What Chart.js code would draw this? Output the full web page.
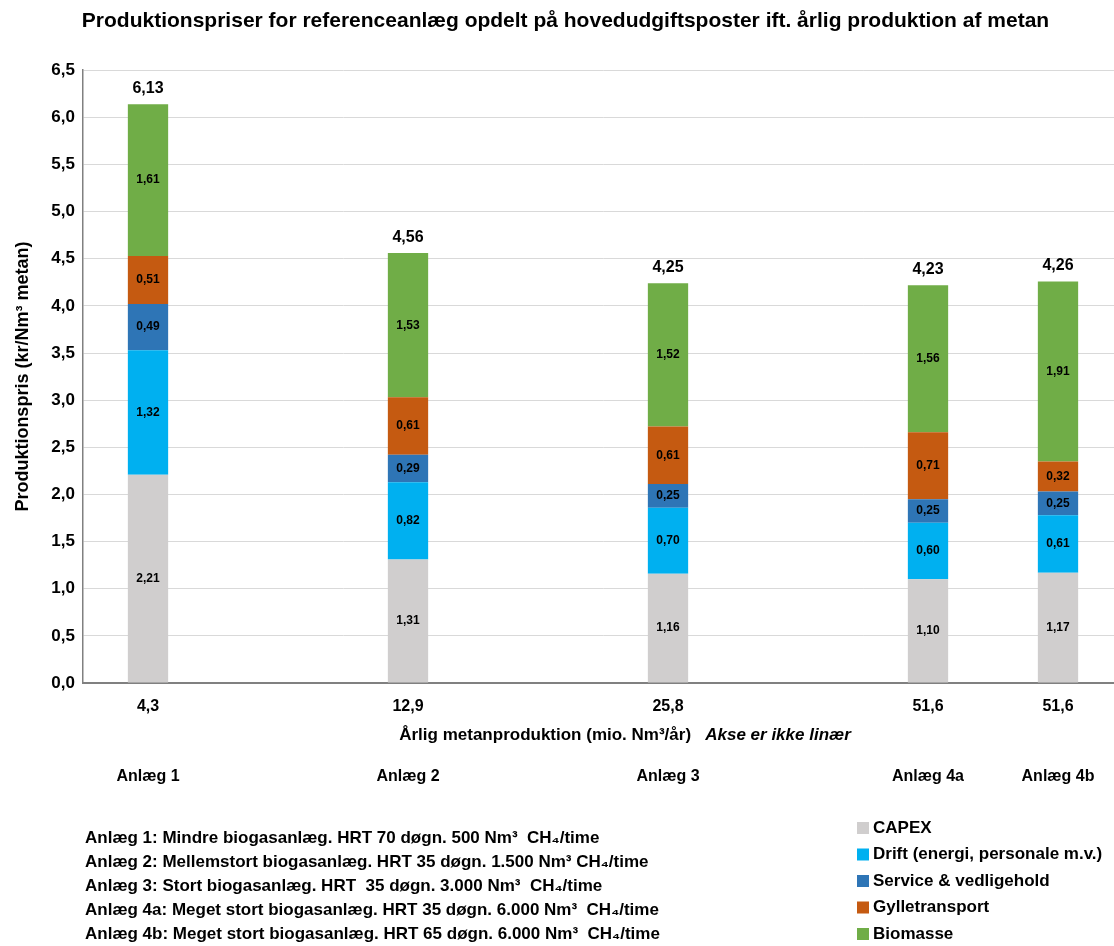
<!DOCTYPE html>
<html><head><meta charset="utf-8">
<script src="https://cdn.jsdelivr.net/npm/chart.js@4/dist/chart.umd.min.js"></script>
<style>html,body{margin:0;padding:0;background:#fff;overflow:hidden}#wrap{width:1123px;height:946px;position:relative}</style>
</head><body><div id="wrap"><canvas id="c" width="1123" height="946"></canvas></div>
<script>
const chartTitle = 'Produktionspriser for referenceanlæg opdelt på hovedudgiftsposter ift. årlig produktion af metan';
const yAxisTitle = 'Produktionspris (kr/Nm³ metan)';
const xAxisTitleMain = 'Årlig metanproduktion (mio. Nm³/år)';
const xAxisTitleNote = 'Akse er ikke linær';
const categories = ['4,3', '', '12,9', '', '25,8', '', '51,6', '51,6'];
const plantLabels = ['Anlæg 1', '', 'Anlæg 2', '', 'Anlæg 3', '', 'Anlæg 4a', 'Anlæg 4b'];
const seriesNames = ['CAPEX', 'Drift (energi, personale m.v.)', 'Service & vedligehold', 'Gylletransport', 'Biomasse'];
const capex    = [2.21, null, 1.31, null, 1.16, null, 1.10, 1.17];
const drift    = [1.32, null, 0.82, null, 0.70, null, 0.60, 0.61];
const service  = [0.49, null, 0.29, null, 0.25, null, 0.25, 0.25];
const gylle    = [0.51, null, 0.61, null, 0.61, null, 0.71, 0.32];
const biomasse = [1.61, null, 1.53, null, 1.52, null, 1.56, 1.91];
const totals   = [6.13, null, 4.56, null, 4.25, null, 4.23, 4.26];
const plantDescriptions = [
  'Anlæg 1: Mindre biogasanlæg. HRT 70 døgn. 500 Nm³  CH₄/time',
  'Anlæg 2: Mellemstort biogasanlæg. HRT 35 døgn. 1.500 Nm³ CH₄/time',
  'Anlæg 3: Stort biogasanlæg. HRT  35 døgn. 3.000 Nm³  CH₄/time',
  'Anlæg 4a: Meget stort biogasanlæg. HRT 35 døgn. 6.000 Nm³  CH₄/time',
  'Anlæg 4b: Meget stort biogasanlæg. HRT 65 døgn. 6.000 Nm³  CH₄/time'
];
const yMin = 0, yMax = 6.5, yStep = 0.5;

const colors = ['#D0CECE', '#00B0F0', '#2E75B6', '#C55A11', '#70AD47'];
const FONT = '"Liberation Sans Narrow", "Arial Narrow", "Liberation Sans", Arial, sans-serif';
const fmt2 = v => v.toFixed(2).replace('.', ',');

const labelPlugin = {
  id: 'labelPlugin',
  afterDatasetsDraw(chart) {
    const ctx = chart.ctx;
    ctx.save();
    ctx.textAlign = 'center';
    ctx.textBaseline = 'middle';
    ctx.fillStyle = '#000';
    ctx.font = 'bold 12px ' + FONT;
    chart.data.datasets.forEach((ds, i) => {
      const meta = chart.getDatasetMeta(i);
      meta.data.forEach((el, j) => {
        const v = ds.data[j];
        if (v == null) return;
        const p = el.getProps(['x', 'y', 'base'], true);
        ctx.fillText(fmt2(v), p.x, (p.y + p.base) / 2);
      });
    });
    const last = chart.getDatasetMeta(chart.data.datasets.length - 1);
    ctx.font = 'bold 16px ' + FONT;
    totals.forEach((t, j) => {
      if (t == null) return;
      const p = last.data[j].getProps(['x', 'y'], true);
      ctx.fillText(fmt2(t), p.x, p.y - 16);
    });
    ctx.restore();
  },
  afterDraw(chart) {
    const ctx = chart.ctx;
    const ca = chart.chartArea;
    ctx.save();
    ctx.fillStyle = '#000';
    ctx.textBaseline = 'middle';
    // x axis title with italic note
    ctx.font = 'bold 17px ' + FONT;
    const w1 = ctx.measureText(xAxisTitleMain + '   ').width;
    ctx.font = 'italic bold 17px ' + FONT;
    const w2 = ctx.measureText(xAxisTitleNote).width;
    const cx = (ca.left + ca.right) / 2 + 22;
    let sx = cx - (w1 + w2) / 2;
    const ty = ca.bottom + 52;
    ctx.textAlign = 'left';
    ctx.font = 'bold 17px ' + FONT;
    ctx.fillText(xAxisTitleMain, sx, ty);
    ctx.font = 'italic bold 17px ' + FONT;
    ctx.fillText(xAxisTitleNote, sx + w1, ty);
    // descriptions
    ctx.font = 'bold 17px ' + FONT;
    plantDescriptions.forEach((d, i) => ctx.fillText(d, 85, 838 + i * 24));
    // legend
    chart.data.datasets.forEach((ds, i) => {
      const y = 828 + i * 26.5;
      ctx.fillStyle = ds.backgroundColor;
      ctx.fillRect(857, y - 6, 12, 12);
      ctx.fillStyle = '#000';
      ctx.font = 'bold 17px ' + FONT;
      ctx.fillText(ds.label, 873, y);
    });
    ctx.restore();
  }
};

const seriesData = [capex, drift, service, gylle, biomasse];
new Chart(document.getElementById('c'), {
  type: 'bar',
  data: {
    labels: categories,
    datasets: seriesNames.map((n, i) => ({
      label: n, data: seriesData[i], backgroundColor: colors[i], borderWidth: 0,
      barPercentage: 0.31, categoryPercentage: 1
    }))
  },
  options: {
    responsive: false,
    animation: false,
    devicePixelRatio: 1,
    layout: { padding: { left: 8, right: 0, top: 0, bottom: 153 } },
    plugins: {
      legend: { display: false },
      tooltip: { enabled: false },
      title: {
        display: true, text: chartTitle, color: '#000',
        font: { family: FONT, size: 21, weight: 'bold' },
        padding: { top: 9, bottom: 36 }
      }
    },
    scales: {
      x: {
        stacked: true, offset: true,
        grid: { display: false, drawTicks: false },
        border: { display: true, color: '#808080', width: 2 },
        ticks: { color: '#000', font: { family: FONT, size: 16, weight: 'bold' }, padding: 14, autoSkip: false, maxRotation: 0 },
        afterFit(s) { s.height = 70; }
      },
      x2: {
        type: 'category', position: 'bottom', labels: plantLabels, offset: true,
        grid: { display: false, drawTicks: false },
        border: { display: false },
        ticks: { color: '#000', font: { family: FONT, size: 16, weight: 'bold' }, padding: 14, autoSkip: false, maxRotation: 0 },
        afterFit(s) { s.height = 40; }
      },
      y: {
        stacked: true, min: yMin, max: yMax,
        grid: { color: '#D9D9D9', lineWidth: 1, drawTicks: false },
        border: { display: true, color: '#808080', width: 1.5 },
        ticks: {
          stepSize: yStep, color: '#000', padding: 8,
          font: { family: FONT, size: 17, weight: 'bold' },
          callback: v => v.toFixed(1).replace('.', ',')
        },
        title: {
          display: true, text: yAxisTitle, color: '#000',
          font: { family: FONT, size: 18, weight: 'bold' }, padding: { top: 4, bottom: 0 }
        },
        afterFit(s) { s.width = 75; }
      }
    }
  },
  plugins: [labelPlugin]
});
</script></body></html>
